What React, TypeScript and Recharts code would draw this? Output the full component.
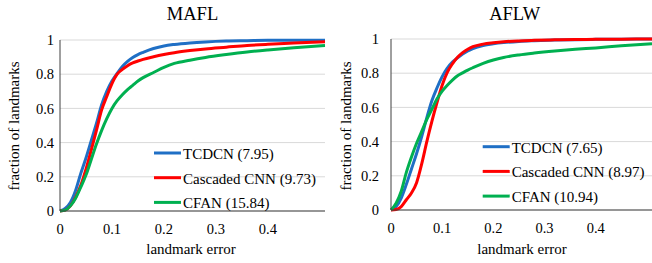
import { LineChart, Line, XAxis, YAxis, CartesianGrid } from 'recharts';

// landmark error thresholds (x) shared by every curve
const errors = [0, 0.01, 0.02, 0.03, 0.04, 0.05, 0.06, 0.07, 0.08, 0.09, 0.1, 0.11, 0.12, 0.13, 0.14, 0.15, 0.16, 0.18, 0.2, 0.22, 0.25, 0.28, 0.32, 0.36, 0.4, 0.45, 0.51];

// MAFL
const maflTcdcn = [0, 0.015, 0.05, 0.12, 0.22, 0.31, 0.41, 0.51, 0.62, 0.7, 0.76, 0.805, 0.845, 0.875, 0.898, 0.915, 0.928, 0.95, 0.965, 0.974, 0.983, 0.989, 0.994, 0.996, 0.998, 0.999, 0.999];
const maflCascaded = [0, 0.005, 0.03, 0.08, 0.15, 0.245, 0.355, 0.47, 0.59, 0.67, 0.745, 0.8, 0.828, 0.85, 0.866, 0.877, 0.887, 0.902, 0.915, 0.926, 0.938, 0.948, 0.958, 0.968, 0.975, 0.982, 0.99];
const maflCfan = [0, 0.005, 0.03, 0.075, 0.14, 0.21, 0.3, 0.39, 0.47, 0.54, 0.6, 0.645, 0.68, 0.71, 0.735, 0.76, 0.78, 0.81, 0.84, 0.863, 0.882, 0.898, 0.915, 0.93, 0.942, 0.955, 0.968];

// AFLW
const aflwTcdcn = [0, 0.02, 0.07, 0.15, 0.24, 0.33, 0.43, 0.54, 0.64, 0.715, 0.78, 0.83, 0.865, 0.89, 0.912, 0.93, 0.944, 0.962, 0.972, 0.979, 0.986, 0.99, 0.994, 0.996, 0.998, 0.999, 1];
const aflwCascaded = [0, 0.003, 0.02, 0.06, 0.1, 0.16, 0.27, 0.4, 0.52, 0.63, 0.73, 0.805, 0.855, 0.893, 0.92, 0.94, 0.955, 0.97, 0.978, 0.984, 0.989, 0.992, 0.995, 0.997, 0.998, 0.999, 1];
const aflwCfan = [0, 0.04, 0.11, 0.22, 0.31, 0.39, 0.46, 0.53, 0.59, 0.65, 0.695, 0.73, 0.76, 0.785, 0.802, 0.818, 0.832, 0.857, 0.877, 0.892, 0.907, 0.918, 0.93, 0.94, 0.948, 0.96, 0.972];

const methods = ['TCDCN', 'Cascaded CNN', 'CFAN'];
const maflScores = ['7.95', '9.73', '15.84'];
const aflwScores = ['7.65', '8.97', '10.94'];

const xTicks = [0, 0.1, 0.2, 0.3, 0.4];
const yTicks = [0, 0.2, 0.4, 0.6, 0.8, 1];

const colors = ['#1F6FC5', '#FF0000', '#00B050'];
const font = 'Liberation Serif, DejaVu Serif, serif';
const W = 326;
const H = 263;

interface PanelProps {
  title: string;
  series: number[][];
  scores: string[];
  yAxisWidth: number;
  marginTop: number;
  marginRight: number;
  marginBottom: number;
  yTickGap: number;
  titleX: number;
  yLabelX: number;
  xLabelX: number;
  legendX: number;
  legendY: number;
}

const Panel = (p: PanelProps) => {
  const data = errors.map((e, i) => ({ e, s0: p.series[0][i], s1: p.series[1][i], s2: p.series[2][i] }));
  const tick = { fill: '#000', fontSize: 14.5, style: { fontFamily: font } };

  return (
    <div style={{ position: 'relative', width: W, height: H, fontFamily: font }}>
      <LineChart width={W} height={H} data={data} margin={{ top: p.marginTop, right: p.marginRight, bottom: p.marginBottom, left: 0 }}>
        <CartesianGrid vertical={false} stroke="#D9D9D9" />
        <XAxis
          dataKey="e"
          type="number"
          domain={[0, 0.51]}
          ticks={xTicks}
          interval={0}
          height={30}
          tickLine={false}
          tickSize={0}
          tickMargin={13}
          axisLine={{ stroke: '#404040' }}
          tick={tick}
        />
        <YAxis
          type="number"
          domain={[0, 1]}
          ticks={yTicks}
          interval={0}
          width={p.yAxisWidth}
          tickLine={false}
          tickSize={0}
          tickMargin={p.yTickGap}
          axisLine={{ stroke: '#404040' }}
          tick={tick}
        />
        {['s0', 's1', 's2'].map((k, i) => (
          <Line key={k} type="monotone" dataKey={k} stroke={colors[i]} strokeWidth={3} dot={false} isAnimationActive={false} />
        ))}
      </LineChart>
      <svg width={W} height={H} style={{ position: 'absolute', left: 0, top: 0, pointerEvents: 'none', fontFamily: font }}>
        <text x={p.titleX} y={19.5} textAnchor="middle" fontSize={18.5} fill="#000">{p.title}</text>
        <text
          x={p.yLabelX}
          y={126}
          transform={`rotate(-90 ${p.yLabelX} 126)`}
          textAnchor="middle"
          dominantBaseline="central"
          fontSize={15}
          fill="#000"
        >
          fraction of landmarks
        </text>
        <text x={p.xLabelX} y={254} textAnchor="middle" fontSize={15} fill="#000">landmark error</text>
        {methods.map((m, i) => {
          const y = p.legendY + i * 24.7;
          return (
            <g key={m}>
              <line x1={p.legendX} x2={p.legendX + 27} y1={y} y2={y} stroke={colors[i]} strokeWidth={3} />
              <text x={p.legendX + 29} y={y + 6} fontSize={15} fill="#000">{`${m} (${p.scores[i]})`}</text>
            </g>
          );
        })}
      </svg>
    </div>
  );
};

export default function App() {
  return (
    <div style={{ position: 'absolute', left: 0, top: 0, width: 652, height: 263, display: 'flex', background: '#fff' }}>
      <Panel
        title="MAFL"
        series={[maflTcdcn, maflCascaded, maflCfan]}
        scores={maflScores}
        yAxisWidth={60}
        marginTop={40}
        marginRight={1}
        marginBottom={22}
        yTickGap={6}
        titleX={192.5}
        yLabelX={14}
        xLabelX={191}
        legendX={154}
        legendY={153}
      />
      <Panel
        title="AFLW"
        series={[aflwTcdcn, aflwCascaded, aflwCfan]}
        scores={aflwScores}
        yAxisWidth={65}
        marginTop={39}
        marginRight={0}
        marginBottom={23}
        yTickGap={12}
        titleX={188.7}
        yLabelX={20}
        xLabelX={196}
        legendX={156.7}
        legendY={146.7}
      />
    </div>
  );
}
